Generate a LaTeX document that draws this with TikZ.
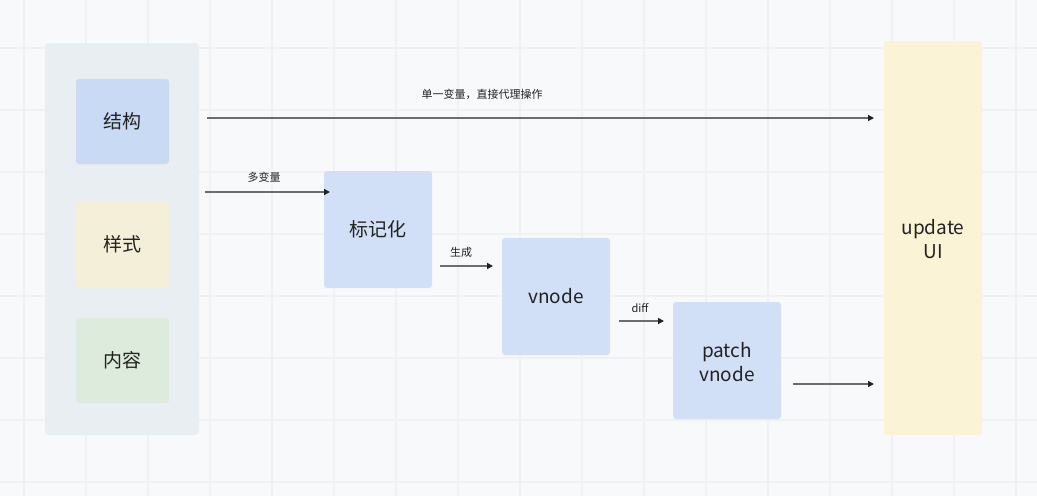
\documentclass[tikz,border=0pt]{standalone}
\usepackage{fontspec}
\setmainfont{Noto Sans CJK SC}
\usetikzlibrary{arrows.meta}
\definecolor{bgc}{HTML}{F8F9FB}
\definecolor{gridc}{HTML}{EFF1F4}
\definecolor{panelc}{HTML}{E9EEF3}
\definecolor{bluec}{HTML}{C9DAF5}
\definecolor{blue2c}{HTML}{D1E0F7}
\definecolor{yellowc}{HTML}{F3EFD8}
\definecolor{greenc}{HTML}{DCEBDB}
\definecolor{uic}{HTML}{FBF3D6}
\definecolor{linec}{HTML}{6B6B72}
\definecolor{textc}{HTML}{222222}
\tikzset{
  box/.style={rounded corners=3pt, inner sep=0pt, text=textc, font=\fontsize{19}{24}\selectfont, align=center},
  lbl/.style={font=\fontsize{11}{13}\selectfont, text=textc, inner sep=0pt},
  conn/.style={draw=linec, line width=1.4pt, -{Triangle[length=6pt,width=6pt,fill=textc,color=textc]}},
}
\begin{document}
\begin{tikzpicture}[x=1pt,y=-1pt]
\fill[bgc] (0,0) rectangle (1037,496);
\useasboundingbox (0,0) rectangle (1037,496);
\foreach \i in {0,...,16} {\draw[gridc, line width=1.5pt] (24+62*\i,0) -- (24+62*\i,496);}
\foreach \j in {0,...,7} {\draw[gridc, line width=1.5pt] (0,48+62*\j) -- (1037,48+62*\j);}
% panel
\fill[panelc, rounded corners=4pt] (45,43) rectangle (199,435);
% boxes
\node[box, fill=bluec, minimum width=93pt, minimum height=85pt] (jg) at (122.5,121.5) {结构};
\node[box, fill=yellowc, minimum width=93pt, minimum height=85pt] (ys) at (122.5,244.5) {样式};
\node[box, fill=greenc, minimum width=93pt, minimum height=85pt] (nr) at (122.5,360.5) {内容};
\node[box, fill=blue2c, minimum width=108pt, minimum height=117pt] (bjh) at (378,229.5) {标记化};
\node[box, fill=blue2c, minimum width=108pt, minimum height=117pt] (vn) at (556,296.5) {vnode};
\node[box, fill=blue2c, minimum width=108pt, minimum height=117pt] (pv) at (727,360.5) {};
\node[box] (pvt) at (727,362) {patch\\vnode};
\node[box, fill=uic, minimum width=98pt, minimum height=394pt] (ui) at (933,238) {};
\node[box] (uit) at (933,239) {update\\UI};
% connector endpoints
\coordinate (a1) at (207,118); \coordinate (a2) at (874,118);
\coordinate (b1) at (205,192); \coordinate (b2) at (330,192);
\coordinate (c1) at (440,266); \coordinate (c2) at (493,266);
\coordinate (d1) at (619,321); \coordinate (d2) at (664,321);
\coordinate (e1) at (793,384); \coordinate (e2) at (874,384);
\draw[conn] (a1) -- (a2);
\draw[conn] (b1) -- (b2);
\draw[conn] (c1) -- (c2);
\draw[conn] (d1) -- (d2);
\draw[conn] (e1) -- (e2);
\node[lbl] (la) at (482,94) {单一变量，直接代理操作};
\node[lbl] (lb) at (264,177) {多变量};
\node[lbl] (lc) at (461,252) {生成};
\node[lbl] (ld) at (640,308) {diff};
\end{tikzpicture}
\end{document}
